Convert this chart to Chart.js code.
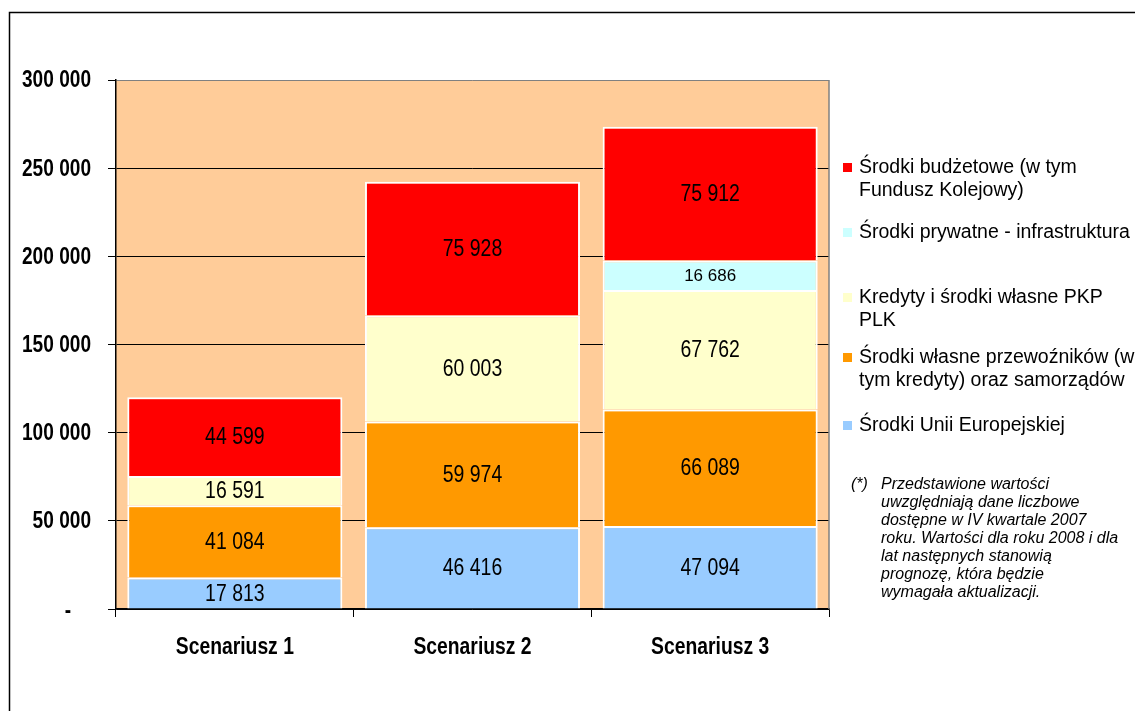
<!DOCTYPE html>
<html>
<head>
<meta charset="utf-8">
<script src="https://cdn.jsdelivr.net/npm/chart.js@4.4.1/dist/chart.umd.min.js"></script>
<style>
  html, body { margin: 0; padding: 0; background: #fff; }
  #wrap { width: 1135px; height: 711px; position: relative; }
</style>
</head>
<body>
<div id="wrap"><canvas id="chart" width="1135" height="711"></canvas></div>
<script>
// categories
const scenarios = ['Scenariusz 1', 'Scenariusz 2', 'Scenariusz 3'];

// series values (stack order: bottom -> top)
const euFunds      = [17813, 46416, 47094];
const carrierFunds = [41084, 59974, 66089];
const plkFunds     = [16591, 60003, 67762];
const privateFunds = [null, null, 16686];
const budgetFunds  = [44599, 75928, 75912];

// y axis
const yMin = 0;
const yMax = 300000;
const yStep = 50000;

// legend texts (top -> bottom as in the picture)
const legendBudget  = ['Środki budżetowe (w tym', 'Fundusz Kolejowy)'];
const legendPrivate = ['Środki prywatne - infrastruktura'];
const legendPlk     = ['Kredyty i środki własne PKP', 'PLK'];
const legendCarrier = ['Środki własne przewoźników (w', 'tym kredyty) oraz samorządów'];
const legendEu      = ['Środki Unii Europejskiej'];

const footnoteLines = [
    'Przedstawione wartości',
    'uwzględniają dane liczbowe',
    'dostępne w IV kwartale 2007',
    'roku. Wartości dla roku 2008 i dla',
    'lat następnych stanowią',
    'prognozę, która będzie',
    'wymagała aktualizacji.'
];

const SANS = '"Liberation Sans", Arial, sans-serif';

function fmt(v) {
    return String(v).replace(/\B(?=(\d{3})+(?!\d))/g, ' ');
}

// text squeezed horizontally, the original uses a narrow font
function narrowText(ctx, text, x, y, sx) {
    ctx.save();
    ctx.translate(x, y);
    ctx.scale(sx, 1);
    ctx.fillText(text, 0, 0);
    ctx.restore();
}

const datasets = [
    { label: legendEu.join(' '), data: euFunds, backgroundColor: '#99CCFF', labelSize: 24 },
    { label: legendCarrier.join(' '), data: carrierFunds, backgroundColor: '#FF9900', labelSize: 24 },
    { label: legendPlk.join(' '), data: plkFunds, backgroundColor: '#FFFFCC', labelSize: 24 },
    { label: legendPrivate.join(' '), data: privateFunds, backgroundColor: '#CCFFFF', labelSize: 17 },
    { label: legendBudget.join(' '), data: budgetFunds, backgroundColor: '#FF0000', labelSize: 24 }
];
datasets.forEach(d => {
    d.borderColor = '#ffffff';
    d.borderWidth = 2;
    d.categoryPercentage = 1;
    d.barPercentage = 0.905;
});

const chartDecor = {
    id: 'chartDecor',
    beforeDraw(chart) {
        const ctx = chart.ctx;
        const a = chart.chartArea;
        ctx.save();
        ctx.fillStyle = '#fff';
        ctx.fillRect(0, 0, chart.width, chart.height);
        ctx.strokeStyle = '#000';
        ctx.lineWidth = 1.5;
        ctx.strokeRect(9.5, 12.5, 1300, 800);
        ctx.fillStyle = '#FFCC99';
        ctx.fillRect(a.left, a.top, a.right - a.left, a.bottom - a.top);
        ctx.restore();
    },
    afterDatasetsDraw(chart) {
        const ctx = chart.ctx;
        const a = chart.chartArea;
        ctx.save();
        // right border of plot area
        ctx.strokeStyle = '#808080';
        ctx.lineWidth = 1.5;
        ctx.beginPath();
        ctx.moveTo(a.right, a.top);
        ctx.lineTo(a.right, a.bottom);
        ctx.stroke();
        // values in the bars
        ctx.fillStyle = '#000';
        ctx.textAlign = 'center';
        ctx.textBaseline = 'middle';
        chart.data.datasets.forEach((ds, i) => {
            const meta = chart.getDatasetMeta(i);
            meta.data.forEach((bar, j) => {
                const v = ds.data[j];
                if (v == null) return;
                const cy = (bar.y + bar.base) / 2 + 1;
                ctx.font = ds.labelSize + 'px ' + SANS;
                if (ds.labelSize > 20) {
                    narrowText(ctx, fmt(v), bar.x, cy, 0.81);
                } else {
                    ctx.fillText(fmt(v), bar.x, cy);
                }
            });
        });
        ctx.restore();
    },
    afterDraw(chart) {
        const ctx = chart.ctx;
        ctx.save();
        ctx.fillStyle = '#000';
        // y tick labels
        const ys = chart.scales.y;
        ctx.font = 'bold 23px ' + SANS;
        ctx.textAlign = 'right';
        ctx.textBaseline = 'middle';
        ys.ticks.forEach(t => {
            const py = ys.getPixelForValue(t.value);
            if (t.value === 0) {
                narrowText(ctx, '-', 71, py + 3, 0.83);
            } else {
                narrowText(ctx, fmt(t.value), 91, py + 1, 0.83);
            }
        });
        // x tick labels
        const xs = chart.scales.x;
        ctx.font = 'bold 23px ' + SANS;
        ctx.textAlign = 'center';
        chart.data.labels.forEach((lab, i) => {
            narrowText(ctx, lab, xs.getPixelForValue(i), 648, 0.84);
        });
        // legend
        const byLabel = {};
        chart.data.datasets.forEach(d => { byLabel[d.label] = d.backgroundColor; });
        const items = [
            { lines: legendBudget, y: 167 },
            { lines: legendPrivate, y: 232 },
            { lines: legendPlk, y: 297 },
            { lines: legendCarrier, y: 357 },
            { lines: legendEu, y: 425 }
        ];
        ctx.textBaseline = 'middle';
        ctx.textAlign = 'left';
        ctx.font = '19.5px ' + SANS;
        items.forEach(it => {
            ctx.fillStyle = byLabel[it.lines.join(' ')];
            ctx.fillRect(843, it.y - 4, 9, 9);
            ctx.fillStyle = '#000';
            it.lines.forEach((t, k) => ctx.fillText(t, 859, it.y + 1 + k * 23));
        });
        // footnote
        ctx.font = 'italic 16px ' + SANS;
        ctx.fillText('(*)', 851, 485);
        footnoteLines.forEach((t, k) => ctx.fillText(t, 881, 485 + k * 18));
        ctx.restore();
    }
};

new Chart(document.getElementById('chart').getContext('2d'), {
    type: 'bar',
    data: { labels: scenarios, datasets: datasets },
    plugins: [chartDecor],
    options: {
        responsive: false,
        animation: false,
        devicePixelRatio: 1,
        layout: { padding: { top: 80, right: 306, left: 0, bottom: 0 } },
        plugins: {
            legend: { display: false },
            tooltip: { enabled: false }
        },
        scales: {
            x: {
                stacked: true,
                offset: true,
                afterFit(scale) { scale.height = 102; },
                grid: { offset: true, drawOnChartArea: false, drawTicks: true, tickLength: 8, color: '#000' },
                border: { color: '#000', width: 1.5 },
                // labels are drawn squeezed by the plugin
                ticks: { color: 'rgba(0,0,0,0)', padding: 14, font: { family: SANS, size: 21, weight: 'bold' } }
            },
            y: {
                stacked: true,
                min: yMin,
                max: yMax,
                afterFit(scale) { scale.width = 116; },
                grid: {
                    color: ctx => (ctx.tick && ctx.tick.value === yMax ? '#808080' : '#000'),
                    tickColor: '#000',
                    tickLength: 8,
                    lineWidth: 1
                },
                border: { color: '#000', width: 1.5 },
                ticks: {
                    stepSize: yStep,
                    color: 'rgba(0,0,0,0)',
                    padding: 17,
                    font: { family: SANS, size: 23, weight: 'bold' },
                    callback: v => (v === 0 ? '-' : fmt(v))
                }
            }
        }
    }
});
</script>
</body>
</html>
